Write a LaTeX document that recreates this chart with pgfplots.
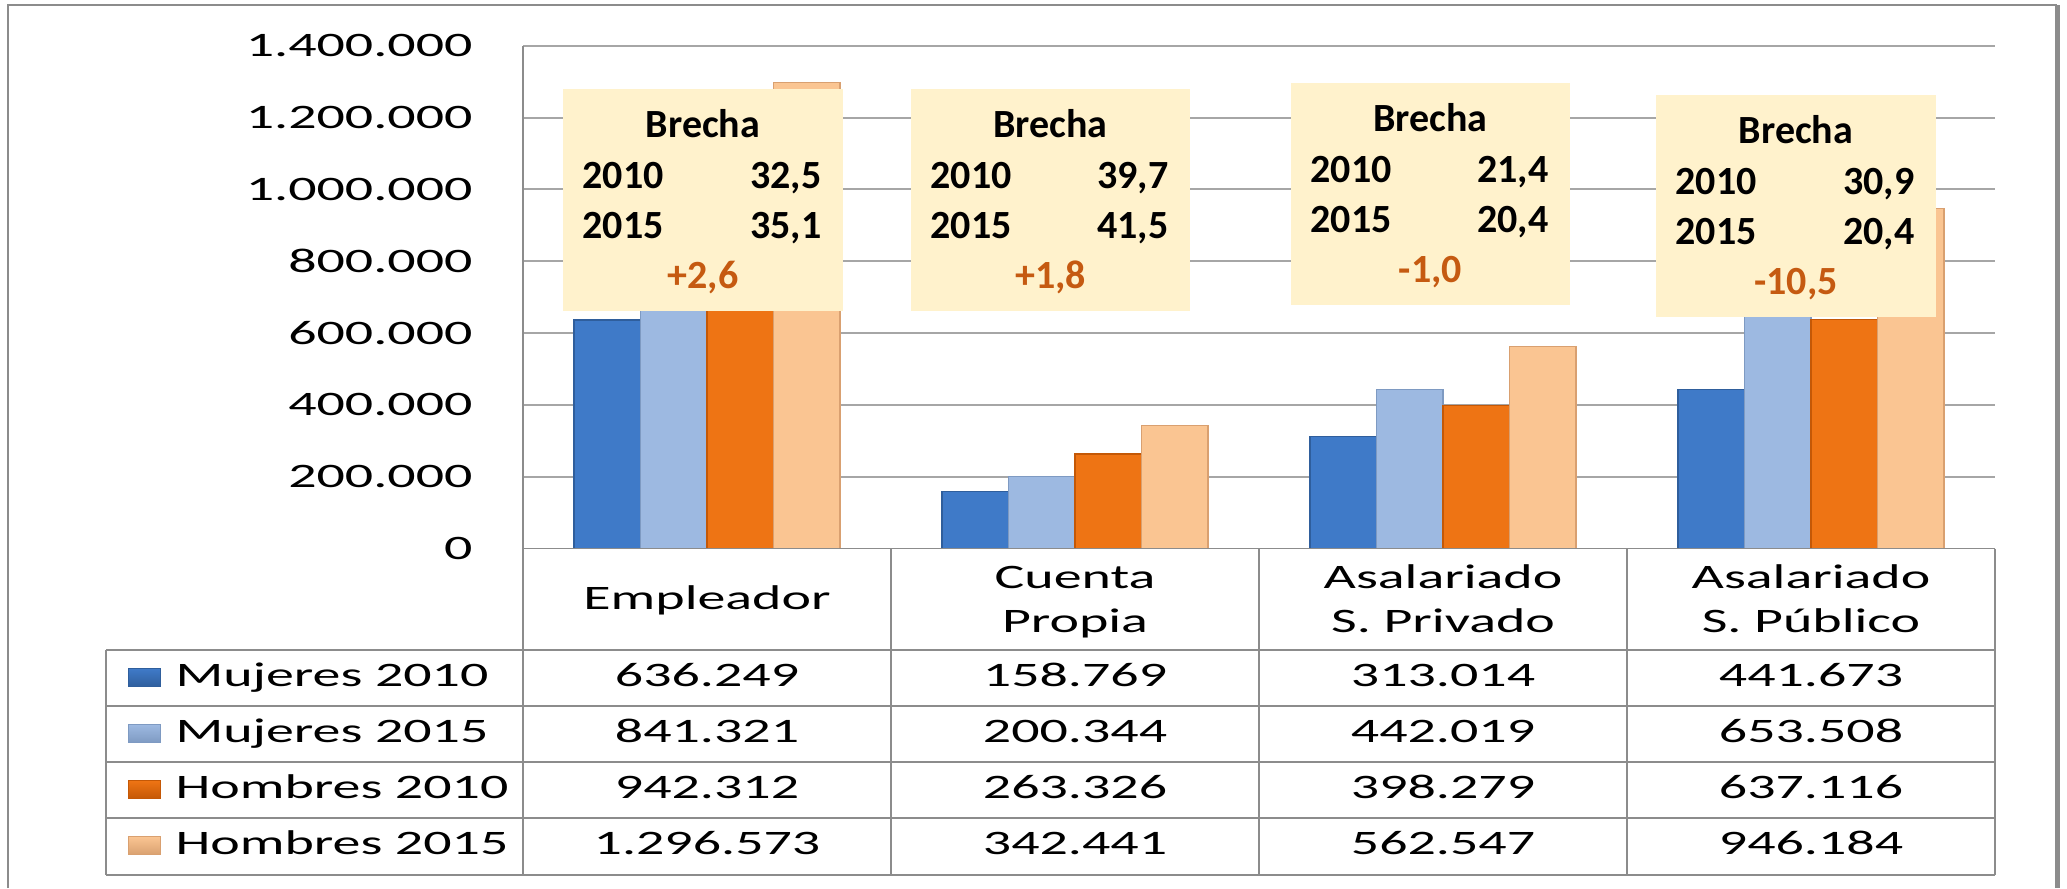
\documentclass[border=0pt]{standalone}
\usepackage{fontspec}
\setmainfont{Carlito}[FakeStretch=1.63]
\newfontfamily\boxfont{Carlito}
\usepackage{pgfplots}
\pgfplotsset{compat=1.18}
\definecolor{gridc}{HTML}{A6A6A6}
\definecolor{linec}{HTML}{8C8C8C}
\definecolor{boxc}{HTML}{FFF2CC}
\definecolor{difc}{HTML}{C55A11}
\definecolor{bA}{HTML}{2F5E9C}\definecolor{bB}{HTML}{3F7AC8}
\definecolor{lA}{HTML}{7E9AC2}\definecolor{lB}{HTML}{9DB9E1}
\definecolor{oA}{HTML}{C45806}\definecolor{oB}{HTML}{EE7414}
\definecolor{pA}{HTML}{D9A070}\definecolor{pB}{HTML}{FAC592}
\newcommand\cf{\fontsize{12.35}{14}\selectfont}
\newcommand\bxf{\boxfont\bfseries\fontsize{14.4}{16}\selectfont}
\newcommand\brecha[7]{% x1 y1 x2 y2 v1 v2 diff (image pixel coords, y down)
  \fill[boxc] (#1,-#2) rectangle (#3,-#4);
  \node[anchor=base, inner sep=0pt, font=\bxf] at ({(#1+#3)/2},-#2-48) {Brecha};
  \node[anchor=base west, inner sep=0pt, font=\bxf] at (#1+19,-#2-99) {2010};
  \node[anchor=base east, inner sep=0pt, font=\bxf] at (#3-21,-#2-99) {#5};
  \node[anchor=base west, inner sep=0pt, font=\bxf] at (#1+19,-#2-149) {2015};
  \node[anchor=base east, inner sep=0pt, font=\bxf] at (#3-21,-#2-149) {#6};
  \node[anchor=base, inner sep=0pt, font=\bxf, text=difc] at ({(#1+#3)/2},-#2-199) {#7};
}
\begin{document}
\begin{tikzpicture}[x=0.36pt,y=0.36pt]
\useasboundingbox (0,0) rectangle (2067,-888);
\draw[linec, line width=0.6pt] (8,-888) -- (8,-5) -- (2057,-5);
\draw[linec, line width=1.8pt] (2057,-5) -- (2057,-888);
\begin{axis}[at={(188.28pt,-197.46pt)}, anchor=south west, scale only axis,
  width=529.92pt, height=181.0pt,
  xmin=-0.5, xmax=3.5, ymin=0, ymax=1400000,
  axis x line=none, axis y line*=left,
  y axis line style={linec, line width=0.6pt},
  ytick={0,200000,...,1400000}, scaled y ticks=false,
  ymajorgrids, grid style={gridc, line width=0.7pt},
  major tick length=0pt,
  yticklabel style={font=\cf, anchor=east, inner sep=0pt, xshift=-18pt,
    /pgf/number format/fixed, /pgf/number format/precision=0,
    /pgf/number format/1000 sep={.}, /pgf/number format/assume math mode=true},
  clip=false]
\addplot[ybar, bar width=23.94pt, bar shift=-35.91pt, fill=bB, draw=bA, line width=0.4pt]
  coordinates {(0,636249) (1,158769) (2,313014) (3,441673)};
\addplot[ybar, bar width=23.94pt, bar shift=-11.97pt, fill=lB, draw=lA, line width=0.4pt]
  coordinates {(0,841321) (1,200344) (2,442019) (3,653508)};
\addplot[ybar, bar width=23.94pt, bar shift=11.97pt, fill=oB, draw=oA, line width=0.4pt]
  coordinates {(0,942312) (1,263326) (2,398279) (3,637116)};
\addplot[ybar, bar width=23.94pt, bar shift=35.91pt, fill=pB, draw=pA, line width=0.4pt]
  coordinates {(0,1296573) (1,342441) (2,562547) (3,946184)};
\end{axis}
% Brecha boxes
\brecha{563}{89}{843}{311}{32,5}{35,1}{+2,6}
\brecha{911}{89}{1190}{311}{39,7}{41,5}{+1,8}
\brecha{1291}{83}{1570}{305}{21,4}{20,4}{-1,0}
\brecha{1656}{95}{1936}{317}{30,9}{20,4}{-10,5}
% data table
\begin{scope}[linec, line width=0.55pt]
\draw (523,-548.5) -- (1995,-548.5);
\foreach \x in {523,891,1259,1627,1995} \draw (\x,-548.5) -- (\x,-875);
\foreach \y in {650,706,762,818,875} \draw (106,-\y) -- (1995,-\y);
\draw (106,-650) -- (106,-875);
\end{scope}
\node[anchor=base, inner sep=0pt, font=\cf] at (707,-609) {Empleador};
\node[anchor=base, inner sep=0pt, font=\cf] at (1075,-588) {Cuenta};
\node[anchor=base, inner sep=0pt, font=\cf] at (1075,-632) {Propia};
\node[anchor=base, inner sep=0pt, font=\cf] at (1443,-588) {Asalariado};
\node[anchor=base, inner sep=0pt, font=\cf] at (1443,-632) {S. Privado};
\node[anchor=base, inner sep=0pt, font=\cf] at (1811,-588) {Asalariado};
\node[anchor=base, inner sep=0pt, font=\cf] at (1811,-632) {S. Público};
% legend column
\foreach \y/\ca/\cb/\lab in {686.7/bA/bB/Mujeres 2010, 742.7/lA/lB/Mujeres 2015, 798.7/oA/oB/Hombres 2010, 854.7/pA/pB/Hombres 2015}{
  \shade[top color=\cb, bottom color=\ca] (128,-\y+18) rectangle (160,-\y);
  \draw[\ca, line width=0.3pt] (128,-\y+18) rectangle (160,-\y);
  \node[anchor=base west, inner sep=0pt, font=\cf] at (175,-\y) {\lab};
}
% values
\foreach \y/\a/\b/\c/\d in {686.7/636.249/158.769/313.014/441.673,
  742.7/841.321/200.344/442.019/653.508,
  798.7/942.312/263.326/398.279/637.116,
  854.7/1.296.573/342.441/562.547/946.184}{
  \node[anchor=base, inner sep=0pt, font=\cf] at (707,-\y) {\a};
  \node[anchor=base, inner sep=0pt, font=\cf] at (1075,-\y) {\b};
  \node[anchor=base, inner sep=0pt, font=\cf] at (1443,-\y) {\c};
  \node[anchor=base, inner sep=0pt, font=\cf] at (1811,-\y) {\d};
}
\end{tikzpicture}
\end{document}
